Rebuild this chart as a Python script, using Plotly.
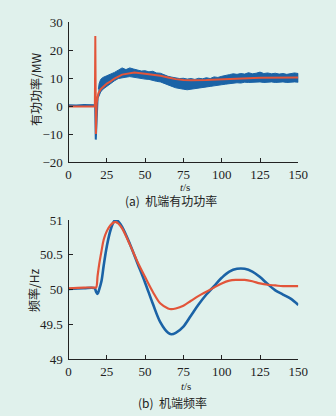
import plotly.graph_objects as go

# ---------------- data: (a) active power ----------------
# pre-fault and spike segments
p_blue_t = [0, 5, 10, 15, 17.4, 17.8, 18.2, 18.6, 19.0, 19.5]
p_blue_v = [0.3, 0.2, 0.4, 0.3, 0.3, -12.0, -4.0, 1.0, 3.0, 4.0]

# envelope of the noisy measured signal after the event
env_t = [19.5, 20, 21, 22.5, 25, 27.5, 30, 32.5, 35, 37.5, 40, 42.5, 45, 47.5, 50,
         52.5, 55, 57.5, 60, 62.5, 65, 67.5, 70, 72.5, 75, 77.5, 80, 82.5, 85, 87.5,
         90, 92.5, 95, 97.5, 100, 102.5, 105, 107.5, 110, 112.5, 115, 117.5, 120,
         122.5, 125, 127.5, 130, 132.5, 135, 137.5, 140, 142.5, 145, 147.5, 150]
env_hi = [6.0, 8.0, 9.5, 10.2, 10.8, 11.3, 12.0, 12.8, 13.6, 13.0, 13.6, 13.2, 12.8,
          12.5, 12.6, 12.2, 12.4, 11.8, 11.7, 11.0, 10.6, 10.3, 10.0, 9.8, 9.9, 9.6,
          9.8, 9.5, 9.9, 9.7, 10.1, 9.8, 10.4, 10.2, 10.6, 11.0, 11.2, 11.5, 11.3,
          11.6, 11.4, 11.9, 11.5, 11.7, 12.1, 11.6, 11.8, 11.5, 11.7, 11.4, 11.6,
          11.3, 11.5, 11.8, 11.6]
env_lo = [3.0, 4.0, 5.0, 6.0, 7.0, 8.0, 9.0, 9.8, 10.0, 10.3, 10.5, 10.4, 10.0, 9.8,
          9.6, 9.5, 9.2, 8.8, 8.6, 8.0, 7.5, 7.0, 6.5, 6.2, 6.0, 5.8, 6.0, 6.3, 6.5,
          6.5, 6.8, 7.0, 7.2, 7.3, 7.6, 7.8, 8.0, 8.2, 8.3, 8.2, 8.5, 8.4, 8.6, 8.5,
          8.6, 8.4, 8.5, 8.6, 8.4, 8.5, 8.6, 8.4, 8.5, 8.6, 8.5]

p_red_t = [0, 10, 17.2, 17.5, 17.9, 18.4, 19.0, 19.5, 21, 23, 25, 27.5, 30, 35, 40,
           43, 50, 55, 60, 65, 70, 75, 80, 90, 100, 110, 125, 150]
p_red_v = [-0.2, -0.2, -0.2, 25.0, -10.0, 1.0, 3.5, 4.5, 6.0, 7.2, 8.0, 8.8, 9.8,
           11.2, 11.8, 12.0, 11.5, 11.2, 10.8, 10.2, 9.6, 9.3, 9.2, 9.3, 9.5, 9.8,
           10.1, 10.2]

# ---------------- data: (b) frequency ----------------
f_t = [0, 10, 17, 18, 19, 20, 21.5, 23, 25, 27.5, 30, 31, 32.5, 35, 40, 45, 50, 55,
       60, 65, 67, 70, 75, 80, 85, 90, 95, 100, 105, 110, 115, 120, 125, 130, 135,
       140, 145, 150]
f_blue = [50.01, 50.02, 50.02, 49.97, 49.94, 50.0, 50.12, 50.35, 50.62, 50.86, 50.99,
          51.0, 50.98, 50.9, 50.66, 50.38, 50.1, 49.8, 49.53, 49.38, 49.36, 49.38,
          49.47, 49.63, 49.79, 49.93, 50.05, 50.17, 50.26, 50.3, 50.3, 50.26, 50.18,
          50.08, 49.99, 49.93, 49.87, 49.78]
f_red = [50.02, 50.03, 50.03, 50.03, 50.2, 50.36, 50.55, 50.72, 50.84, 50.93, 50.97,
         50.97, 50.95, 50.88, 50.65, 50.4, 50.18, 49.97, 49.8, 49.73, 49.72, 49.73,
         49.77, 49.84, 49.91, 49.97, 50.03, 50.09, 50.13, 50.14, 50.14, 50.12, 50.09,
         50.07, 50.06, 50.05, 50.05, 50.05]

# ---------------- ticks ----------------
x_ticks = [0, 25, 50, 75, 100, 125, 150]
p_ticks = [-20, -10, 0, 10, 20, 30]
f_ticks = [49, 49.5, 50, 50.5, 51]
f_tick_text = ["49", "49.5", "50", "50.5", "51"]

BLUE = "#1b63a6"
RED = "#e2553a"
BG = "#e0f1ec"
INK = "#222222"
SERIF = "Liberation Serif"
CJK = "Noto Sans CJK SC"

fig = go.Figure()

# (a)
fig.add_trace(go.Scatter(x=p_blue_t, y=p_blue_v, mode="lines",
                         line=dict(color=BLUE, width=2), xaxis="x", yaxis="y",
                         showlegend=False))
fig.add_trace(go.Scatter(x=env_t + env_t[::-1], y=env_hi + env_lo[::-1], mode="lines",
                         fill="toself", fillcolor=BLUE,
                         line=dict(color=BLUE, width=1), xaxis="x", yaxis="y",
                         showlegend=False))
fig.add_trace(go.Scatter(x=p_red_t, y=p_red_v, mode="lines",
                         line=dict(color=RED, width=2), xaxis="x", yaxis="y",
                         showlegend=False))
# (b)
fig.add_trace(go.Scatter(x=f_t, y=f_blue, mode="lines", line=dict(color=BLUE, width=2.6, shape="spline"),
                         xaxis="x2", yaxis="y2", showlegend=False))
fig.add_trace(go.Scatter(x=f_t, y=f_red, mode="lines", line=dict(color=RED, width=2.2, shape="spline"),
                         xaxis="x2", yaxis="y2", showlegend=False))

axcommon = dict(showline=True, linecolor=INK, linewidth=1.2, ticks="inside",
                ticklen=4, tickcolor=INK, tickwidth=1.2, showgrid=False,
                zeroline=False, automargin=False,
                tickfont=dict(family=SERIF, size=13, color=INK))

xd = [68.5 / 336, 298.3 / 336]
fig.update_layout(
    width=336, height=416,
    margin=dict(l=0, r=0, t=0, b=0, pad=0, autoexpand=False),
    paper_bgcolor=BG, plot_bgcolor=BG,
    xaxis=dict(domain=xd, range=[0, 150], tickvals=x_ticks, anchor="y", **axcommon),
    yaxis=dict(domain=[1 - 162 / 416, 1 - 22 / 416], range=[-20, 30], tickvals=p_ticks,
               anchor="x", ticklabelstandoff=2, **axcommon),
    xaxis2=dict(domain=xd, range=[0, 150], tickvals=x_ticks, anchor="y2", **axcommon),
    yaxis2=dict(domain=[1 - 359.3 / 416, 1 - 220 / 416], range=[49, 51], tickvals=f_ticks,
                ticktext=f_tick_text, anchor="x2", ticklabelstandoff=2, **axcommon),
)

def ann(text, x, y, size=13, font=SERIF, angle=0):
    fig.add_annotation(text=text, x=x / 336, y=1 - y / 416, xref="paper", yref="paper",
                       showarrow=False, textangle=angle,
                       font=dict(family=font, size=size, color=INK),
                       xanchor="center", yanchor="middle")

ann("有功功率/MW", 35, 90, size=12, font=CJK, angle=-90)
ann("频率/Hz", 33, 291, size=12, font=CJK, angle=-90)
ann("<i>t</i>/s", 185, 187, size=11)
ann("<i>t</i>/s", 186, 386, size=11)
ann("(a)  机端有功功率", 171, 201, size=12, font=CJK)
ann("(b)  机端频率", 172, 402, size=12, font=CJK)

fig.write_html(
    "out.html",
    config={"displayModeBar": False},
    post_script="document.body.style.margin='0';document.body.style.background='%s';" % BG,
)
